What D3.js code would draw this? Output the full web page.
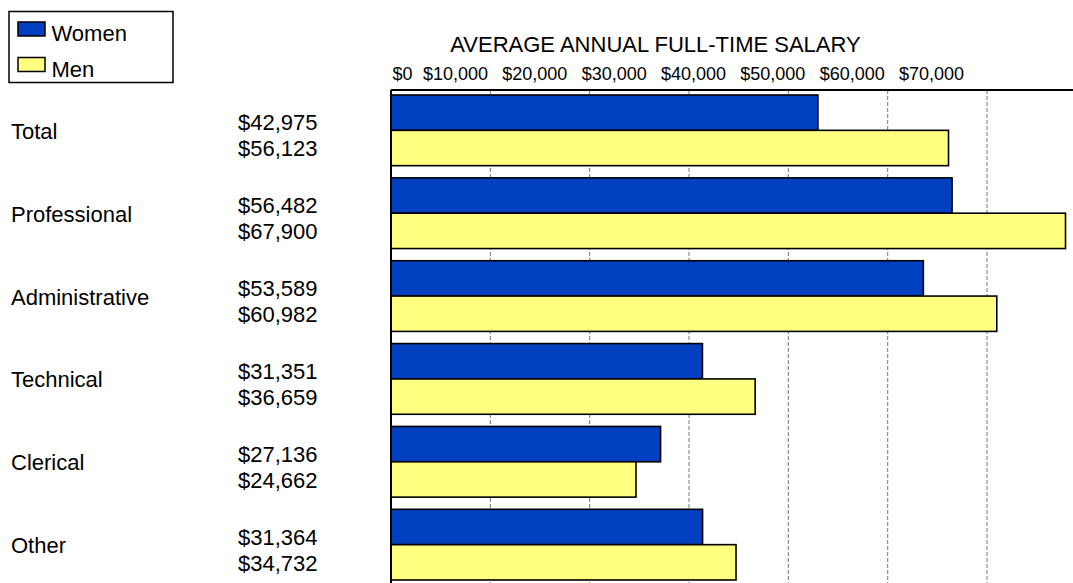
<!DOCTYPE html>
<html>
<head>
<meta charset="utf-8">
<script src="https://cdn.jsdelivr.net/npm/d3@7"></script>
<style>
  body { margin: 0; background: #fff; }
  text { font-family: "Liberation Sans", Arial, sans-serif; fill: #000; }
</style>
</head>
<body>
<svg width="1073" height="583"></svg>
<script>
// data
const categories = ['Total', 'Professional', 'Administrative', 'Technical', 'Clerical', 'Other'];
const seriesNames = ['Women', 'Men'];
const women = [42975, 56482, 53589, 31351, 27136, 31364];
const men = [56123, 67900, 60982, 36659, 24662, 34732];
const tickValues = [0, 10000, 20000, 30000, 40000, 50000, 60000, 70000];
const gridValues = [10000, 20000, 30000, 40000, 50000, 60000, 70000];
const titleText = 'AVERAGE ANNUAL FULL-TIME SALARY';

const colors = { Women: '#0040c0', Men: '#ffff80' };
const money = d3.format('$,');

// step 1 select the svg
let svg = d3.select('svg');

let rows = categories.map(function (c, i) {
  return { cat: c, Women: women[i], Men: men[i] };
});

// step 2 scales
let plotLeft = 391, plotTop = 90;
let xScale = d3.scaleLinear().domain([0, 80000]).range([plotLeft, plotLeft + 794.7]);
let yScale = d3.scaleBand().domain(categories).range([95, 580]).paddingInner(0.147).paddingOuter(0);
let ySub = d3.scaleBand().domain(seriesNames).range([0, yScale.bandwidth()]);
// the tick labels in the original are squeezed, not under the grid lines
let labelScale = d3.scaleLinear().domain([0, 10000, 70000]).range([402, 455, 931]);

// step 3 grid lines (dashed)
svg.append('g')
  .selectAll('line')
  .data(gridValues)
  .join('line')
  .attr('x1', d => xScale(d)).attr('x2', d => xScale(d))
  .attr('y1', plotTop).attr('y2', 583)
  .attr('stroke', '#777')
  .attr('stroke-width', 1)
  .attr('stroke-dasharray', '4,2');

// step 4 bars
let groups = svg.append('g')
  .selectAll('g')
  .data(rows)
  .join('g')
  .attr('transform', d => 'translate(0,' + yScale(d.cat) + ')');

groups.selectAll('rect')
  .data(d => seriesNames.map(s => ({ key: s, value: d[s] })))
  .join('rect')
  .attr('x', xScale(0))
  .attr('y', d => ySub(d.key))
  .attr('width', d => xScale(d.value) - xScale(0))
  .attr('height', ySub.bandwidth())
  .attr('fill', d => colors[d.key])
  .attr('stroke', '#000')
  .attr('stroke-width', 1.6);

// frame lines (top and left)
svg.append('line').attr('x1', plotLeft).attr('x2', 1073).attr('y1', plotTop).attr('y2', plotTop)
  .attr('stroke', '#000').attr('stroke-width', 2);
svg.append('line').attr('x1', plotLeft).attr('x2', plotLeft).attr('y1', plotTop).attr('y2', 583)
  .attr('stroke', '#000').attr('stroke-width', 2);

// step 5 category names and value labels
let labels = svg.append('g')
  .selectAll('g')
  .data(rows)
  .join('g')
  .attr('transform', d => 'translate(0,' + (yScale(d.cat) + yScale.bandwidth() / 2) + ')');

labels.append('text')
  .attr('x', 11)
  .attr('y', 8.5)
  .style('font-size', '22px')
  .text(d => d.cat);

labels.append('text')
  .attr('x', 238)
  .attr('y', 0)
  .style('font-size', '22px')
  .text(d => money(d.Women));

labels.append('text')
  .attr('x', 238)
  .attr('y', 26)
  .style('font-size', '22px')
  .text(d => money(d.Men));

// step 6 tick labels on top
let axis = svg.append('g')
  .attr('transform', 'translate(0,80)')
  .call(d3.axisTop(labelScale).tickValues(tickValues).tickFormat(money).tickSize(0));
axis.select('.domain').remove();
axis.selectAll('text')
  .attr('y', 0).attr('dy', 0)
  .style('font-family', '"Liberation Sans", Arial, sans-serif')
  .style('font-size', '18px')
  .attr('fill', '#000');

// title
svg.append('text')
  .attr('x', 655.5)
  .attr('y', 52)
  .attr('text-anchor', 'middle')
  .style('font-size', '22px')
  .text(titleText);

// legend
let legend = svg.append('g');
legend.append('rect')
  .attr('x', 9).attr('y', 11.5)
  .attr('width', 164).attr('height', 71)
  .attr('fill', '#fff').attr('stroke', '#000').attr('stroke-width', 1.5);

let items = legend.selectAll('g')
  .data(seriesNames)
  .join('g')
  .attr('transform', (d, i) => 'translate(18,' + (22 + i * 35.5) + ')');
items.append('rect')
  .attr('width', 27).attr('height', 14)
  .attr('fill', d => colors[d])
  .attr('stroke', '#000').attr('stroke-width', 1.5);
items.append('text')
  .attr('x', 33.5).attr('y', 19)
  .style('font-size', '22px')
  .text(d => d);
</script>
</body>
</html>
